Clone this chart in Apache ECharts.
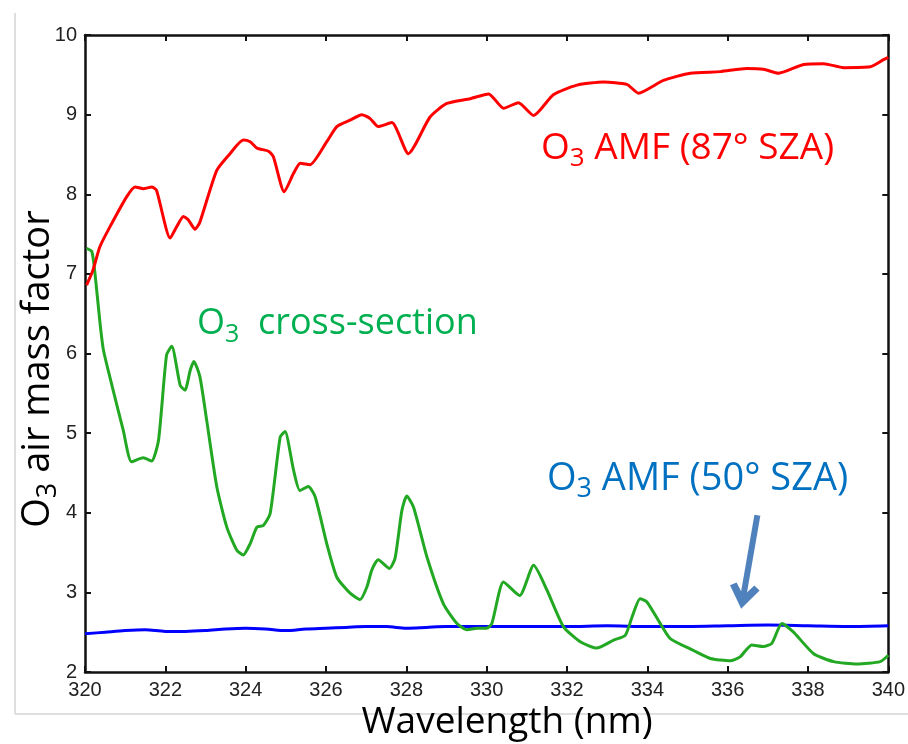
<!DOCTYPE html>
<html>
<head>
<meta charset="utf-8">
<script src="https://cdn.jsdelivr.net/npm/echarts@6/dist/echarts.min.js"></script>
<style>html,body{margin:0;padding:0;background:#fff}#c{width:908px;height:744px}</style>
</head>
<body>
<div id="c"></div>
<script>
// ---- data ----
const amf87 = [
  [320.04,6.86],[320.2,7.05],[320.37,7.34],[320.62,7.59],[321.04,7.97],[321.25,8.09],[321.45,8.07],
  [321.66,8.09],[321.78,8.05],[322.12,7.45],[322.28,7.59],[322.45,7.72],[322.57,7.68],[322.74,7.56],
  [322.86,7.65],[323.28,8.30],[323.61,8.51],[323.94,8.68],[324.11,8.66],[324.28,8.58],[324.57,8.54],
  [324.69,8.47],[324.96,8.03],[325.19,8.26],[325.36,8.39],[325.6,8.37],[326.02,8.66],[326.27,8.85],
  [326.6,8.93],[326.89,9.00],[327.1,8.95],[327.3,8.85],[327.64,8.90],[328.05,8.51],[328.59,8.97],
  [329.01,9.14],[329.59,9.20],[330.05,9.26],[330.42,9.08],[330.79,9.15],[331.17,8.99],[331.66,9.25],
  [332.25,9.37],[332.91,9.41],[333.49,9.38],[333.78,9.27],[334.4,9.43],[335.07,9.52],[335.82,9.54],
  [336.48,9.58],[336.89,9.57],[337.27,9.52],[337.89,9.63],[338.39,9.64],[338.89,9.59],[339.55,9.60],
  [339.88,9.69],[340.0,9.72]
];
const crossSection = [
  [320.04,7.32],[320.17,7.28],[320.25,7.0],[320.37,6.40],[320.46,6.04],[320.7,5.54],[320.95,5.04],
  [321.16,4.64],[321.45,4.69],[321.66,4.65],[321.83,4.91],[322.03,5.98],[322.16,6.09],[322.37,5.60],
  [322.49,5.54],[322.62,5.79],[322.71,5.90],[322.86,5.71],[323.03,5.16],[323.28,4.33],[323.53,3.82],
  [323.78,3.53],[323.94,3.47],[324.11,3.61],[324.28,3.82],[324.44,3.84],[324.61,3.99],[324.86,4.95],
  [324.98,5.02],[325.19,4.54],[325.35,4.28],[325.56,4.33],[325.73,4.20],[326.02,3.61],[326.27,3.19],
  [326.6,2.99],[326.85,2.91],[327.02,3.07],[327.14,3.28],[327.3,3.41],[327.58,3.30],[327.72,3.43],
  [327.89,4.03],[328.01,4.21],[328.18,4.07],[328.51,3.45],[328.92,2.86],[329.26,2.61],[329.51,2.53],
  [329.76,2.55],[330.0,2.55],[330.13,2.61],[330.42,3.13],[330.82,2.96],[331.17,3.34],[331.5,3.03],
  [331.91,2.57],[332.33,2.38],[332.74,2.30],[333.16,2.40],[333.45,2.46],[333.62,2.69],[333.82,2.92],
  [333.99,2.88],[334.32,2.61],[334.57,2.42],[335.15,2.27],[335.57,2.17],[336.06,2.14],[336.31,2.19],
  [336.6,2.34],[336.89,2.32],[337.1,2.36],[337.35,2.61],[337.64,2.50],[338.14,2.23],[338.64,2.13],
  [339.22,2.10],[339.8,2.13],[340.0,2.21]
];
const amf50 = [
  [320,2.48],[320.5,2.50],[321,2.52],[321.5,2.53],[322,2.51],[322.5,2.51],[323,2.52],[323.5,2.54],
  [324,2.55],[324.5,2.54],[325,2.52],[325.5,2.54],[326,2.55],[326.5,2.56],[327,2.57],[327.5,2.57],
  [328,2.55],[328.5,2.56],[329,2.57],[329.5,2.57],[330,2.57],[331,2.57],[332,2.57],[333,2.58],
  [334,2.57],[335,2.57],[336,2.58],[337,2.59],[338,2.58],[339,2.57],[340,2.58]
];
const arrowFrom = [336.74, 3.97];
const arrowTo = [336.39, 2.95];
const xTicks = {min: 320, max: 340, step: 2};
const yTicks = {min: 2, max: 10, step: 1};

// ---- chart ----
const chart = echarts.init(document.getElementById('c'));
const axisCol = '#111';
const tickFont = {fontFamily: 'Liberation Sans', fontSize: 20, color: '#222'};
const annFont = 'Open Sans';
function subRich(color, size, subSize) {
  return {
    o: {fontFamily: annFont, fontSize: size, fill: color, color: color, lineHeight: size + 10},
    s: {fontFamily: annFont, fontSize: subSize, fill: color, color: color, lineHeight: subSize * 0.7, verticalAlign: 'bottom'}
  };
}
const baseX = {type: 'value', min: xTicks.min, max: xTicks.max, interval: xTicks.step,
  axisLine: {onZero: false, lineStyle: {color: axisCol, width: 2.5}},
  axisTick: {inside: true, length: 6, lineStyle: {color: axisCol, width: 2}},
  splitLine: {show: false}};
const baseY = {type: 'value', min: yTicks.min, max: yTicks.max, interval: yTicks.step,
  axisLine: {onZero: false, lineStyle: {color: axisCol, width: 2.5}},
  axisTick: {inside: true, length: 6, lineStyle: {color: axisCol, width: 2}},
  splitLine: {show: false}};
const chevron = 'path://M10,0 L20,16 L16,19 L10,10 L4,19 L0,16 Z';

chart.setOption({
  animation: false,
  backgroundColor: '#fff',
  grid: {left: 85, top: 35, right: 18, bottom: 72, containLabel: false},
  xAxis: [
    Object.assign({}, baseX, {position: 'bottom', axisLabel: Object.assign({margin: 8}, tickFont)}),
    Object.assign({}, baseX, {position: 'top', axisLabel: {show: false}})
  ],
  yAxis: [
    Object.assign({}, baseY, {position: 'left', axisLabel: Object.assign({margin: 8}, tickFont)}),
    Object.assign({}, baseY, {position: 'right', axisLabel: {show: false}})
  ],
  series: [
    {type: 'line', data: amf50, showSymbol: false, smooth: 0.3, lineStyle: {color: '#0000ff', width: 3}, z: 2,
      markLine: {silent: true, symbol: ['none', chevron], symbolSize: [30, 25], label: {show: false},
        lineStyle: {color: '#4f81bd', width: 6, type: 'solid'},
        itemStyle: {color: '#4f81bd'},
        data: [[{coord: arrowFrom}, {coord: arrowTo}]]}},
    {type: 'line', data: crossSection, showSymbol: false, smooth: 0.2, lineStyle: {color: '#22a822', width: 3}, z: 3},
    {type: 'line', data: amf87, showSymbol: false, smooth: 0.2, lineStyle: {color: '#ff0000', width: 3}, z: 4}
  ],
  graphic: [
    {type: 'line', shape: {x1: 15, y1: 13, x2: 15, y2: 714}, style: {stroke: '#d4d4d4', lineWidth: 1.5}, silent: true},
    {type: 'line', shape: {x1: 15, y1: 714, x2: 908, y2: 714}, style: {stroke: '#d4d4d4', lineWidth: 1.5}, silent: true},
    {type: 'text', x: 541, y: 125, style: {text: '{o|O}{s|3}{o| AMF (87° SZA)}', rich: subRich('#ff0000', 37, 26)}},
    {type: 'text', x: 197, y: 301, style: {text: '{o|O}{s|3}{o|  cross-section}', rich: subRich('#00b050', 36, 25)}},
    {type: 'text', x: 547, y: 455, style: {text: '{o|O}{s|3}{o| AMF (50° SZA)}', rich: subRich('#0070c0', 38, 27)}},
    {type: 'text', x: 507, y: 722, style: {text: 'Wavelength (nm)', fontFamily: annFont, fontSize: 37, fill: '#000', align: 'center', verticalAlign: 'middle'}},
    {type: 'text', x: 38, y: 369, rotation: Math.PI / 2,
      style: {text: '{o|O}{s|3}{o| air mass factor}', align: 'center', verticalAlign: 'middle',
        rich: subRich('#000', 38, 27)}}
  ]
});
</script>
</body>
</html>
